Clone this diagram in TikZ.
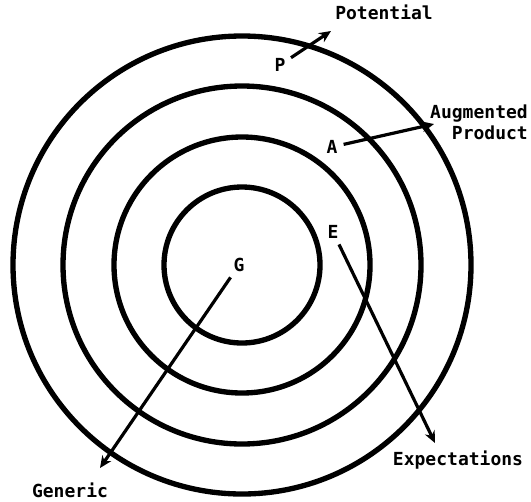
\documentclass[tikz,border=0pt]{standalone}
\usepackage{fontspec}
\newfontfamily\dotfont{DejaVu Sans Mono}
\usetikzlibrary{arrows.meta}

\begin{document}
\begin{tikzpicture}[x=0.75pt,y=-0.75pt,font=\dotfont\bfseries\fontsize{13.5}{16}\selectfont]
\tikzset{
  ring/.style={line width=4pt},
  pointer/.style={line width=2.4pt,shorten <=3pt,-{Stealth[length=9pt,width=8pt]}},
  lbl/.style={inner sep=1.5pt}
}
\useasboundingbox (0,0) rectangle (531,501);
% the four rings
\coordinate (centre) at (242,265);
\foreach \r in {78,128,179,229}
  \draw[ring] (centre) circle (\r*0.75pt);
% letters in the rings
\node[lbl] (g) at (239,265) {G};
\node[lbl] (e) at (333,232) {E};
\node[lbl] (a) at (332,147) {A};
\node[lbl] (p) at (280,65) {P};
% names outside
\node[lbl] (generic) at (70,490) {Generic};
\node[lbl] (expect) at (458,460) {Expectations};
\node[lbl,align=right] (augm) at (479,122) {Augmented\\Product};
\node[lbl,anchor=west] (potential) at (333,12) {Potential};
% arrow ends
\coordinate (gtip) at (100,468);
\coordinate (etip) at (435,443);
\coordinate (atip) at (434,124);
\coordinate (ptip) at (331,31);
\draw[pointer] (g) -- (gtip);
\draw[pointer] (e) -- (etip);
\draw[pointer] (a) -- (atip);
\draw[pointer] (p) -- (ptip);
\end{tikzpicture}
\end{document}
